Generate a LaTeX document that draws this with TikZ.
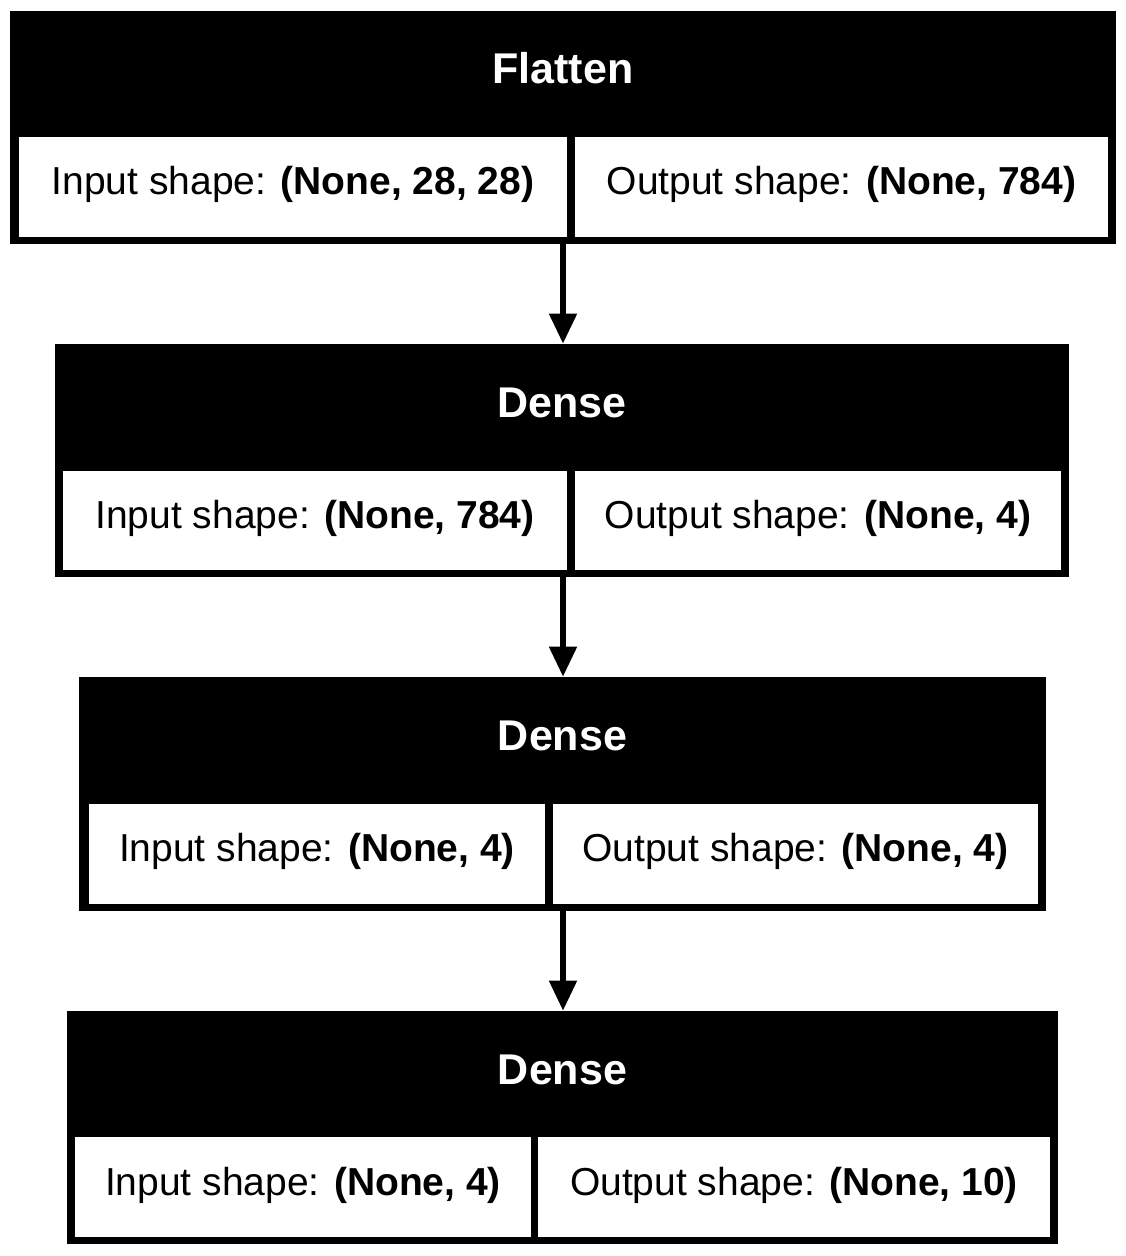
\documentclass[tikz,border=0pt]{standalone}
\usepackage{fontspec}
\setmainfont{Liberation Sans}
\usepackage{tikz}
\usetikzlibrary{arrows.meta}
\usetikzlibrary{fit}

\begin{document}
\begin{tikzpicture}[x=0.5pt, y=-0.5pt, >={Triangle[length=15pt, width=13.5pt]},
  layerbox/.style={fill=black, inner sep=0pt},
  cellbox/.style={fill=white, inner sep=0pt},
  layertitle/.style={anchor=base, text=white, inner sep=0pt, font=\fontsize{21.5}{26}\selectfont\bfseries},
  shapetext/.style={anchor=base, inner sep=0pt, font=\fontsize{19.5}{23}\selectfont},
  flow/.style={->, line width=2.6pt}]
  \useasboundingbox (0,0) rectangle (1125,1256);

  % ===== Layer 1: Flatten =====
  \node[layerbox, fit={(10,11) (1116,244)}] (flatten) {};
  \node[cellbox, fit={(19,137) (567,237)}] (flatten-in) {};
  \node[cellbox, fit={(575,137) (1108,237)}] (flatten-out) {};
  \node[layertitle] (flatten-title) at (563,84) {Flatten};
  \node[shapetext] (flatten-intext) at (293,195) {Input shape: \textbf{(None, 28, 28)}};
  \node[shapetext] (flatten-outtext) at (841.5,195) {Output shape: \textbf{(None, 784)}};

  % ===== Layer 2: Dense =====
  \node[layerbox, fit={(55,344) (1069,577)}] (dense1) {};
  \node[cellbox, fit={(63,471) (567,570)}] (dense1-in) {};
  \node[cellbox, fit={(575,471) (1061,570)}] (dense1-out) {};
  \node[layertitle] (dense1-title) at (562,417) {Dense};
  \node[shapetext] (dense1-intext) at (315,528) {Input shape: \textbf{(None, 784)}};
  \node[shapetext] (dense1-outtext) at (818,528) {Output shape: \textbf{(None, 4)}};

  % ===== Layer 3: Dense =====
  \node[layerbox, fit={(79,677) (1046,911)}] (dense2) {};
  \node[cellbox, fit={(89,804) (545,904)}] (dense2-in) {};
  \node[cellbox, fit={(553,804) (1038,904)}] (dense2-out) {};
  \node[layertitle] (dense2-title) at (562.5,750) {Dense};
  \node[shapetext] (dense2-intext) at (317,861) {Input shape: \textbf{(None, 4)}};
  \node[shapetext] (dense2-outtext) at (795.5,861) {Output shape: \textbf{(None, 4)}};

  % ===== Layer 4: Dense =====
  \node[layerbox, fit={(67,1011) (1058,1244)}] (dense3) {};
  \node[cellbox, fit={(75,1137) (531,1237)}] (dense3-in) {};
  \node[cellbox, fit={(538,1137) (1050,1237)}] (dense3-out) {};
  \node[layertitle] (dense3-title) at (562.5,1084) {Dense};
  \node[shapetext] (dense3-intext) at (303,1195) {Input shape: \textbf{(None, 4)}};
  \node[shapetext] (dense3-outtext) at (794,1195) {Output shape: \textbf{(None, 10)}};

  % Connections
  \draw[flow] (flatten.south) -- (flatten.south |- dense1.north);
  \draw[flow] (flatten.south |- dense1.south) -- (flatten.south |- dense2.north);
  \draw[flow] (flatten.south |- dense2.south) -- (flatten.south |- dense3.north);
\end{tikzpicture}
\end{document}
